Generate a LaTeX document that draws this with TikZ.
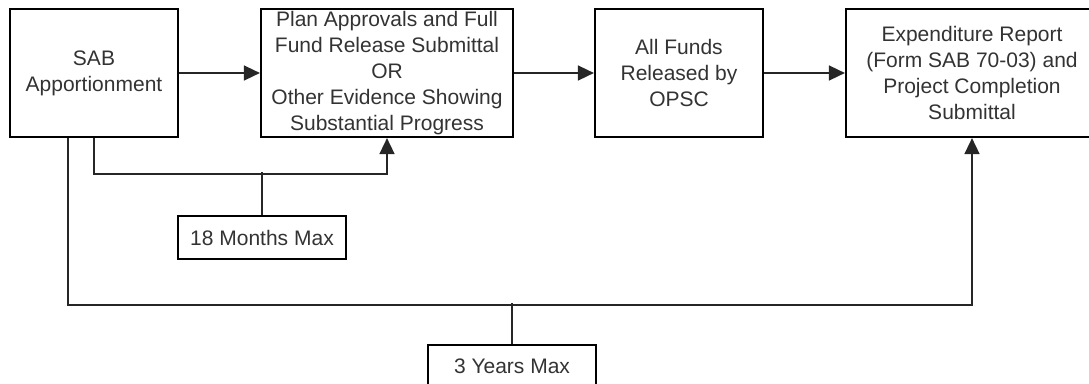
\documentclass[tikz,border=0pt]{standalone}
\usepackage{fontspec}
\setmainfont{Liberation Sans}
\usetikzlibrary{arrows.meta}
\definecolor{txt}{HTML}{333333}
\begin{document}
\begin{tikzpicture}[x=1pt,y=-1pt,
  box/.style={draw=black, line width=2.2pt, fill=white, inner sep=0pt, align=center,
              text=txt, font=\fontsize{21}{26}\selectfont},
  conn/.style={draw=black!85, line width=1.6pt},
  arr/.style={conn, -{Triangle[length=16pt,width=15pt]}}]
\path[use as bounding box, clip] (0,0) rectangle (1089,383);
\fill[white] (0,0) rectangle (1089,383);
% main boxes
\node[box, minimum width=168pt, minimum height=128pt] (sab) at (94,73) {SAB\\Apportionment};
\node[box, minimum width=252pt, minimum height=128pt] (plan) at (387,73)
  {Plan Approvals and Full\\Fund Release Submittal\\OR\\Other Evidence Showing\\Substantial Progress};
\node[box, minimum width=168pt, minimum height=128pt] (funds) at (679,73) {All Funds\\Released by\\OPSC};
\node[box, minimum width=252pt, minimum height=128pt] (exp) at (972,73)
  {Expenditure Report\\(Form SAB 70-03) and\\Project Completion\\Submittal};
% label boxes
\node[box, minimum width=168pt, minimum height=43pt] (m18) at (262,237.5) {18 Months Max};
\node[box, minimum width=168pt, minimum height=43pt] (y3) at (512,366.5) {3 Years Max};
% connectors
\draw[arr] (sab) -- (plan);
\draw[arr] (plan) -- (funds);
\draw[arr] (funds) -- (exp);
\draw[arr] (sab.south) -- ++(0,36) -| (plan.south);
\draw[conn] (m18.north) -- ++(0,-43);
\draw[arr] ([xshift=-26pt]sab.south) -- ++(0,167) -| (exp.south);
\draw[conn] (y3.north) -- ++(0,-41);
\end{tikzpicture}
\end{document}
